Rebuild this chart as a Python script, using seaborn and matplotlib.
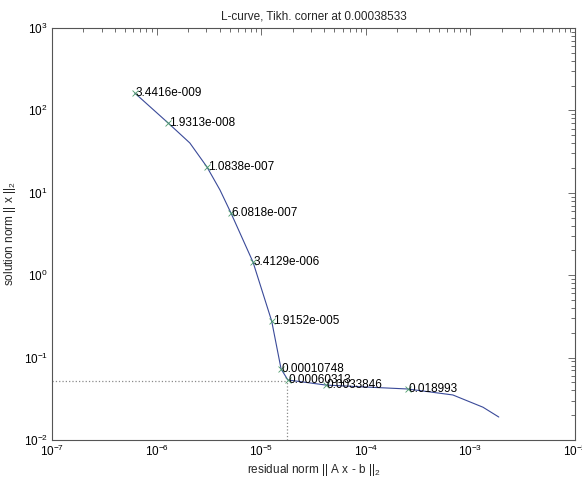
import matplotlib
matplotlib.use("Agg")
import matplotlib.pyplot as plt
import seaborn as sns
import pandas as pd
import numpy as np
from matplotlib.ticker import LogLocator, NullFormatter

# L-curve: residual norm vs solution norm
curve_rho = [6.2e-7, 1.29e-6, 2.08e-6, 3.03e-6, 4.04e-6, 5.14e-6, 8.36e-6, 1.26e-5,
             1.55e-5, 1.80e-5, 4.17e-5, 9.8e-5, 2.51e-4, 6.8e-4, 1.32e-3, 1.87e-3]
curve_eta = [162, 70.3, 40.2, 20.6, 10.8, 5.69, 1.44, 0.278,
             0.0728, 0.0535, 0.0464, 0.044, 0.0416, 0.0352, 0.025, 0.019]

# marked points and their regularization parameters
mark_rho = [6.2e-7, 1.29e-6, 3.03e-6, 5.14e-6, 8.36e-6, 1.26e-5, 1.55e-5, 1.80e-5, 4.17e-5, 2.51e-4]
mark_eta = [162, 70.3, 20.6, 5.69, 1.44, 0.278, 0.0728, 0.0535, 0.0464, 0.0416]
mark_lbl = ["3.4416e-009", "1.9313e-008", "1.0838e-007", "6.0818e-007", "3.4129e-006",
            "1.9152e-005", "0.00010748", "0.00060313", "0.0033846", "0.018993"]

# corner
corner_rho = 1.75e-5
corner_eta = 0.052
reg_corner = "0.00038533"

sns.set_theme(style="white")
plt.rcParams['font.family'] = ['Liberation Sans', 'DejaVu Sans']
plt.rcParams['mathtext.fontset'] = 'custom'
plt.rcParams['mathtext.rm'] = 'Liberation Sans'
plt.rcParams['mathtext.it'] = 'Liberation Sans'

fig = plt.figure(figsize=(5.82, 4.78), dpi=100)
ax = fig.add_axes([0.0893, 0.0795, 0.8986, 0.862])

curve = pd.DataFrame({"rho": curve_rho, "eta": curve_eta})
marks = pd.DataFrame({"rho": mark_rho, "eta": mark_eta})

sns.lineplot(data=curve, x="rho", y="eta", sort=False, color="#3a4a99", lw=0.8, ax=ax)
sns.scatterplot(data=marks, x="rho", y="eta", marker="x", s=18, color="#4a9a6a",
                linewidth=0.6, ax=ax, zorder=3)

for r, e, t in zip(mark_rho, mark_eta, mark_lbl):
    ax.text(r * 1.02, e, t, ha="left", va="center", fontsize=8.5, color="black")

ax.set_xscale("log")
ax.set_yscale("log")
ax.set_xlim(1e-7, 1e-2)
ax.set_ylim(1e-2, 1e3)

# dotted lines to the corner
ax.plot([1e-7, corner_rho], [corner_eta, corner_eta], ls=":", color="#8a8a8a", lw=0.9)
ax.plot([corner_rho, corner_rho], [1e-2, corner_eta], ls=":", color="#8a8a8a", lw=0.9)

ax.set_title(f"L-curve, Tikh. corner at {reg_corner}", fontsize=8.5, pad=6)
ax.set_xlabel("residual norm || A x - b ||$_2$", fontsize=8.5, labelpad=2)
ax.set_ylabel("solution norm || x ||$_2$", fontsize=8.5, labelpad=4)

for axis in (ax.xaxis, ax.yaxis):
    axis.set_major_locator(LogLocator(base=10, numticks=10))
    axis.set_minor_locator(LogLocator(base=10, subs=np.arange(2, 10), numticks=10))
    axis.set_minor_formatter(NullFormatter())

ax.tick_params(which="both", direction="in", top=True, right=True, colors="#555555",
               labelcolor="black", labelsize=8.5, width=0.6)
ax.tick_params(which="major", length=5, pad=3)
ax.tick_params(which="minor", length=3)
for sp in ax.spines.values():
    sp.set_color("#555555")
    sp.set_linewidth(0.8)

fig.savefig("out.png", dpi=100)
